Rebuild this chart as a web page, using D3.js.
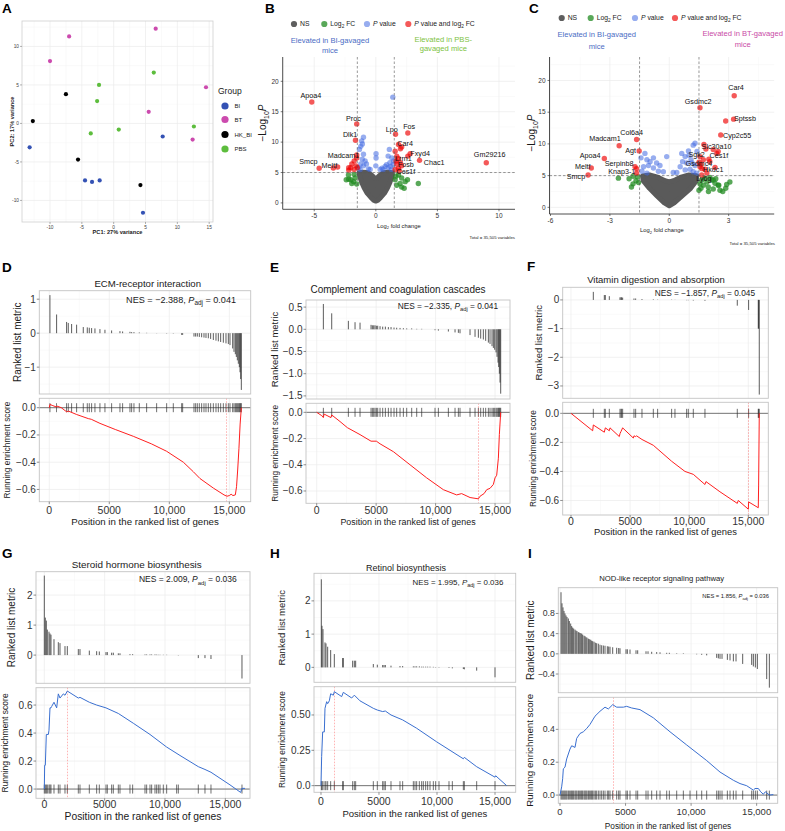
<!DOCTYPE html>
<html><head><meta charset="utf-8">
<script src="https://cdn.jsdelivr.net/npm/d3@7"></script>
<style>body{margin:0;background:#fff}svg{display:block;font-family:"Liberation Sans",Arial,Helvetica,sans-serif}</style>
</head><body><svg id="c" width="785" height="831"></svg>
<script>
// ---------------- DATA ----------------
// Panel A (PCA)
const pcaGroups = ["BI","BT","HK_BI","PBS"];
const pcaGroupColors = ["#3452b4","#cc4aae","#000000","#5dbd3d"];
const pcaSampleGroup = ["BI","BI","BI","BI","BI","BI","BT","BT","BT","BT","BT","BT","HK_BI","HK_BI","HK_BI","HK_BI","PBS","PBS","PBS","PBS","PBS","PBS"];
const pcaPC1 = [-13.2,-4.5,-3.4,-2.2,7.7,4.6,-7.0,-10.0,6.6,14.5,5.5,12.4,-7.5,-12.7,-5.6,4.2,6.3,-2.3,-2.6,-3.6,0.8,12.6];
const pcaPC2 = [-3.1,-7.4,-7.6,-7.4,-1.7,-11.6,11.3,8.1,12.3,4.7,1.5,-2.1,3.8,0.3,-4.7,-8.0,6.6,5.0,2.9,-1.3,-0.8,-0.4];
const pcaTicksX = [-10,-5,0,5,10,15];
const pcaTicksY = [-10,-5,0,5,10];

// Volcano common
const volcColors = ["#4d4d4d","#228b22","#4169e1","#ee0000"];

// Panel B
const bNsX = [-1.35,-1.3,-1.15,-0.95,-0.7,-0.4,-0.15,0,0.15,0.4,0.7,0.95,1.15,1.3,1.35,1.0,0.6,0.3,0.1,0,-0.1,-0.3,-0.6,-1.0];
const bNsY = [4.95,4.3,3.4,2.5,1.6,0.9,0.4,0.3,0.4,0.9,1.6,2.5,3.4,4.3,4.95,5.05,4.95,4.5,4.1,4.0,4.1,4.5,4.95,5.05];
const bGreenX = [-2.22,-2.03,-1.8,-1.68,-1.95,-1.55,-2.4,-1.76,-2.2,1.84,2.1,1.97,2.38,2.57,1.7,2.1,3.45,1.57,2.3,1.62];
const bGreenY = [4.6,3.8,3.5,4.1,3.2,3.1,3.8,4.7,3.9,4.6,4.1,3.2,3.5,3.8,2.9,2.6,3.2,3.8,2.4,4.4];
const bBlueX = [1.38,-1.09,-1.22,-1.33,-1.0,-1.1,-0.87,-1.22,-1.0,-0.76,0.02,0.02,0.0,0.76,1.1,1.0,1.3,1.14,0.87,1.41,0.6,1.0,-1.27,-0.46,0.35,1.27,-1.4,-0.6,0.5,1.2,-1.0,-1.15,1.45];
const bBlueY = [17.4,9.7,9.3,8.8,8.0,7.2,6.9,6.4,6.1,6.4,8.1,7.4,6.1,6.0,8.8,7.7,7.4,6.6,6.3,6.3,5.5,5.8,5.5,5.5,5.5,5.5,5.8,5.6,5.7,6.0,10.8,10.2,6.9];
const bRedX = [-1.55,-1.76,-1.95,-1.6,-1.5,-2.03,-1.76,-2.2,-3.1,-2.2,2.1,2.0,2.6,1.84,1.7,2.1,1.57,1.57,1.65,1.9];
const bRedY = [7.4,6.9,6.4,6.1,5.8,5.8,5.5,5.8,5.9,5.4,9.2,8.9,7.7,7.3,6.4,6.1,8.5,5.5,6.9,5.3];
const bGenes = ["Apoa4","Proc","Dlk1","Madcam1","Smcp","Meltf","Lpo","Fos","Car4","Fxyd4","Chac1","Gm29216","Lrrn1","Fosb","Ces1f"];
const bGeneX = [-5.2,-1.55,-1.65,-1.55,-4.6,-3.45,1.6,2.6,1.84,2.79,3.55,8.97,1.7,2.0,1.84];
const bGeneY = [16.6,13.0,10.3,7.9,5.7,5.75,11.3,11.5,9.6,8.1,7.0,6.6,7.7,6.6,5.7];
const bLabelX = [-5.28,-1.82,-2.09,-2.63,-5.48,-3.77,1.3,2.71,2.38,3.6,4.74,9.24,2.24,2.44,2.44];
const bLabelY = [17.6,13.9,11.3,7.8,6.75,6.2,12.0,12.55,9.73,8.08,6.68,7.96,7.35,6.35,5.2];

// Panel C
const cNsX = [-1.35,-1.32,-1.0,-0.62,-0.25,0,0.25,0.65,1.08,1.37,1.38,1.0,0.55,0.22,0,-0.22,-0.55,-1.0];
const cNsY = [4.95,4.2,3.0,1.8,0.7,0.25,0.7,1.8,3.0,4.2,5.0,5.1,4.7,4.2,4.0,4.2,4.7,5.1];
const cGreenX = [-2.57,-1.83,-1.68,-1.83,-1.55,-1.91,-2.03,-1.6,1.64,1.9,2.14,2.31,1.72,1.97,2.22,2.47,1.5,2.56,1.55,2.22,3.06,2.7,1.98,2.5,1.8,2.05,2.35,2.85,1.6,2.9];
const cGreenY = [4.6,4.9,4.2,3.7,3.9,3.2,4.5,4.8,4.3,4.0,4.3,3.8,3.5,3.2,2.9,3.5,2.7,2.7,3.7,4.3,4.0,2.5,2.5,3.5,4.6,4.7,4.5,3.0,3.0,3.6];
const cBlueX = [-1.43,-1.23,-1.13,-0.97,-0.8,-1.05,-1.3,-0.64,-0.47,-0.8,-1.38,-0.55,-1.13,-0.13,0.63,0.8,0.97,1.21,1.3,1.0,0.67,0.88,1.1,1.3,0.55,0.8,1.05,1.21,1.38,0.38,-0.3,0.2,1.4,1.15];
const cBlueY = [7.8,8.5,7.5,7.2,7.8,6.6,6.4,7.0,6.6,6.2,5.7,5.7,5.4,8.0,8.5,8.0,8.9,9.8,10.1,8.2,7.2,7.0,7.5,6.6,6.4,5.9,6.0,5.6,5.4,5.5,5.6,5.5,8.8,7.0];
const cRedX = [2.85,1.75,1.85,2.22,1.72,1.5,1.6,1.9,1.65,2.0,2.4,1.8,-1.65];
const cRedY = [13.6,9.9,9.2,9.1,7.5,7.1,6.8,5.4,6.1,7.6,8.5,6.0,6.1];
const cGenes = ["Car4","Gsdmc2","Sptssb","Cyp2c55","Col6a4","Madcam1","Agt","Apoa4","Meltf","Smcp","Serpinb8","Knap3-1","Slc30a10","Sgk2","Ces1f","Gsdmc4","Hkdc1","Ly6g"];
const cGeneX = [3.28,1.55,3.25,2.6,-1.65,-2.53,-1.52,-3.28,-3.94,-4.1,-1.73,-1.65,2.47,1.55,2.05,1.55,2.31,1.64];
const cGeneY = [17.6,15.7,13.9,11.4,10.7,9.7,8.9,7.7,6.2,5.1,6.4,5.4,8.8,8.0,7.2,6.4,6.3,5.1];
const cLabelX = [3.37,1.46,3.82,3.43,-1.9,-3.25,-1.95,-4.0,-4.37,-4.71,-2.53,-2.4,2.39,1.38,2.51,1.5,2.22,1.75];
const cLabelY = [18.96,16.68,14.06,11.31,11.85,10.79,8.94,8.15,6.52,4.94,6.95,5.62,9.57,8.37,8.1,6.95,5.89,4.58];

// GSEA panels
const gseaXTicks = [0,5000,10000,15000];
const D_hitPos = [56,611,1444,1583,1861,2278,2833,3167,3333,3528,3806,4222,4639,5194,5889,6111,6722,6861,7056,7500,8111,8944,9778,10333,11028,11111,12056,12194,12333,12500,12694,12889,13056,13250,13444,13667,13889,14083,14278,14500,14722,14917,15056,15278,15389,15500,15583,15667,15750,15833,15889,15944,16000];
const D_metric = [1.12,0.55,0.33,0.30,0.27,0.25,0.18,0.17,0.16,0.15,0.14,0.12,0.10,0.08,0.06,0.05,0.04,0.03,0.03,0.02,0.01,0.005,-0.01,-0.01,-0.05,-0.05,-0.10,-0.10,-0.10,-0.11,-0.12,-0.13,-0.14,-0.15,-0.17,-0.20,-0.22,-0.24,-0.26,-0.28,-0.30,-0.32,-0.35,-0.45,-0.55,-0.62,-0.70,-0.80,-0.90,-1.00,-1.15,-1.35,-1.67];
const D_esPos = [0,56,300,611,650,1000,1444,1600,2278,3250,3500,4222,5500,7000,8500,9778,11167,12000,12556,13667,14556,14800,15000,15150,15300,15500,15600,15700,15800,15900,16000];
const D_esVal = [0,0.024,0.015,0.005,0.012,0.0,-0.03,-0.025,-0.05,-0.08,-0.085,-0.115,-0.16,-0.21,-0.265,-0.32,-0.40,-0.47,-0.52,-0.59,-0.64,-0.65,-0.645,-0.635,-0.645,-0.64,-0.58,-0.45,-0.30,-0.12,0];

const E_hitPos = [561,1262,2663,3224,3645,4570,4682,4794,4906,5018,5130,5327,5551,5775,6028,6252,6504,6728,7009,7289,7570,7990,8411,8831,9952,10233,11074,11635,11915,12055,12896,13317,13597,13793,14017,14213,14438,14578,14746,14858,14970,15083,15167,15251,15307,15363,15419,15475];
const E_metric = [0.57,0.36,0.19,0.16,0.15,0.10,0.09,0.09,0.09,0.08,0.08,0.07,0.06,0.06,0.05,0.05,0.04,0.035,0.03,0.025,0.02,0.02,0.01,0.01,-0.02,-0.03,-0.05,-0.07,-0.08,-0.09,-0.13,-0.17,-0.19,-0.21,-0.23,-0.26,-0.30,-0.33,-0.38,-0.42,-0.46,-0.52,-0.62,-0.75,-0.85,-1.0,-1.2,-1.45];
const E_esPos = [0,420,561,620,1200,1262,1960,2580,3645,4570,5018,5327,6448,7850,9250,10650,11770,12190,12900,13600,13740,14077,14300,14578,14858,14998,15139,15279,15363,15475];
const E_esVal = [0,-0.025,-0.04,-0.013,-0.04,-0.02,-0.07,-0.117,-0.17,-0.22,-0.22,-0.24,-0.30,-0.40,-0.50,-0.59,-0.63,-0.62,-0.65,-0.66,-0.64,-0.62,-0.59,-0.58,-0.55,-0.50,-0.48,-0.35,-0.17,0];

const F_hitPos = [1889,2819,2904,3242,4144,4229,4285,4370,5328,5469,6005,6964,7330,8514,8796,9783,9924,10347,11333,14068,15027,15844,15873,15929];
const F_metric = [0.28,0.17,0.17,0.13,0.09,0.09,0.09,0.08,0.05,0.05,0.03,0.02,0.01,0.01,0.005,-0.01,-0.01,-0.02,-0.03,-0.20,-0.35,-1.0,-1.0,-3.3];
const F_esPos = [0,1833,1889,2819,2904,3242,3300,4088,4144,4229,4370,5272,5328,5469,5550,6005,6964,8514,9640,10347,11333,11420,12600,14068,14150,15000,15030,15844,15873,15929];
const F_esVal = [0,-0.12,-0.08,-0.13,-0.10,-0.12,-0.10,-0.16,-0.14,-0.125,-0.10,-0.17,-0.155,-0.16,-0.155,-0.18,-0.22,-0.33,-0.40,-0.42,-0.49,-0.47,-0.54,-0.62,-0.60,-0.66,-0.61,-0.65,-0.50,0];

const G_hitPos = [0,83,166,249,387,470,552,801,1160,1298,1713,1906,2818,2956,3729,4337,4558,5110,5221,5580,5718,6133,6271,7099,7320,8343,8481,8757,8895,9171,9309,9448,9586,9862,10138,10967,11105,12762,13315,13812,16381];
const G_metric = [2.65,1.25,1.15,0.85,0.78,0.72,0.68,0.53,0.43,0.40,0.30,0.30,0.20,0.20,0.15,0.13,0.12,0.10,0.10,0.08,0.08,0.06,0.06,0.03,0.03,0.02,0.02,0.02,0.02,0.02,0.015,0.01,0.01,0.01,0.01,0.0,-0.01,-0.10,-0.10,-0.13,-0.78];
const G_esPos = [0,28,83,166,332,387,470,552,608,801,1022,1160,1298,1574,1713,1906,2818,2956,3729,4337,5110,6133,7376,8757,10138,11243,12762,13315,13812,15387,16270,16381,16630];
const G_esVal = [0,0.17,0.17,0.39,0.39,0.42,0.58,0.58,0.59,0.62,0.58,0.68,0.65,0.68,0.67,0.70,0.65,0.655,0.62,0.60,0.58,0.54,0.47,0.39,0.30,0.24,0.16,0.14,0.12,0.03,-0.024,0.005,0.005];

const H_hitPos = [29,86,172,345,431,575,833,1149,1868,1925,2730,2874,2989,4511,4856,5316,5431,5546,6034,6810,7040,7960,8103,8247,8477,8678,8822,9023,9195,9397,9684,9885,10172,11034,11322,12270,12356,13420,15000];
const H_metric = [2.65,1.25,1.15,0.75,0.72,0.62,0.52,0.40,0.28,0.28,0.20,0.20,0.20,0.10,0.08,0.07,0.07,0.07,0.05,0.04,0.04,0.03,0.03,0.03,0.03,0.02,0.02,0.02,0.02,0.02,0.015,0.01,0.01,-0.02,-0.03,-0.05,-0.06,-0.10,-0.30];
const H_esPos = [0,57,144,287,345,489,575,718,833,1063,1149,1782,1925,2644,2874,3362,4511,4856,5316,5546,6034,7040,8247,9971,12270,12356,13420,15000,15057,16006];
const H_esVal = [0,0.205,0.38,0.38,0.547,0.594,0.58,0.60,0.65,0.64,0.665,0.63,0.66,0.62,0.64,0.60,0.547,0.535,0.524,0.528,0.50,0.465,0.406,0.31,0.19,0.20,0.134,0.06,0.07,0];

const I_hitPos = [76,153,229,305,381,458,534,636,712,814,890,966,1043,1144,1221,1297,1399,1475,1577,1653,1729,1831,1907,1984,2060,2162,2238,2340,2416,2492,2594,2696,2797,2924,3052,3179,3306,3433,3611,3713,3815,4018,4323,4476,4577,5035,5137,5340,5798,5925,6561,6714,6993,7375,7629,8138,8341,8901,9409,9918,10426,10808,11189,11952,12079,12206,12359,12766,12969,13224,13427,13935,14622,14749,14901,15054,15766,15969];
const I_metric = [1.22,1.0,0.92,0.85,0.80,0.76,0.73,0.70,0.65,0.60,0.55,0.52,0.50,0.48,0.46,0.45,0.43,0.42,0.41,0.40,0.38,0.36,0.35,0.33,0.32,0.30,0.29,0.28,0.26,0.25,0.24,0.22,0.21,0.20,0.18,0.17,0.165,0.16,0.15,0.145,0.14,0.13,0.12,0.115,0.11,0.09,0.09,0.085,0.07,0.07,0.05,0.05,0.04,0.035,0.03,0.02,0.02,0.01,0.01,0.0,-0.01,-0.02,-0.03,-0.08,-0.09,-0.10,-0.10,-0.12,-0.13,-0.15,-0.15,-0.20,-0.22,-0.25,-0.27,-0.30,-0.50,-0.67];
const I_esPos = [0,127,203,254,381,509,636,763,890,1144,1271,1526,1780,2035,2289,2670,3052,3433,3687,4018,4323,4832,5086,5467,6103,7120,8392,9664,11189,12206,13224,13731,14240,14749,14876,15130,15308,15511,15664,15969,16274];
const I_esVal = [0,0.05,0.10,0.16,0.17,0.22,0.25,0.28,0.30,0.29,0.345,0.375,0.385,0.405,0.43,0.48,0.51,0.535,0.524,0.55,0.535,0.535,0.54,0.53,0.52,0.47,0.385,0.305,0.21,0.14,0.09,0.07,0.057,0.03,0.04,0.04,0.02,0.005,0.02,0.0,0.003];

// ---------------- DRAWING ----------------
const svg = d3.select("#c");
const GRID = "#ebebeb", GRIDMINOR = "#f5f5f5", TXT = "#1a1a1a", TICKTXT = "#333";

function minors(ticks, dom) {
  const step = ticks[1] - ticks[0], out = [];
  for (let v = ticks[0] - step / 2; v >= dom[0]; v -= step) out.push(v);
  for (let v = ticks[0] + step / 2; v <= dom[1]; v += step) out.push(v);
  return out;
}
function rich(t, parts, fs) {
  let shifted = false;
  parts.forEach(p => {
    const ts = t.append("tspan").text(p.t);
    if (p.sub) { ts.attr("dy", fs * 0.3).attr("font-size", fs * 0.7); shifted = true; }
    else if (shifted) { ts.attr("dy", -fs * 0.3); shifted = false; }
    if (p.it) ts.attr("font-style", "italic");
  });
  return t;
}
function letter(txt, x, y) {
  svg.append("text").attr("x", x).attr("y", y).attr("font-size", 13.5).attr("font-weight", "bold").attr("fill", "#000").text(txt);
}
function grid(g, x, y, xt, yt, x0, x1, y0, y1) {
  const xd = x.domain(), yd = y.domain();
  minors(xt, xd).forEach(v => g.append("line").attr("x1", x(v)).attr("x2", x(v)).attr("y1", y0).attr("y2", y1).attr("stroke", GRIDMINOR).attr("stroke-width", 0.5));
  minors(yt, yd).forEach(v => g.append("line").attr("x1", x0).attr("x2", x1).attr("y1", y(v)).attr("y2", y(v)).attr("stroke", GRIDMINOR).attr("stroke-width", 0.5));
  xt.forEach(v => g.append("line").attr("x1", x(v)).attr("x2", x(v)).attr("y1", y0).attr("y2", y1).attr("stroke", GRID).attr("stroke-width", 0.7));
  yt.forEach(v => g.append("line").attr("x1", x0).attr("x2", x1).attr("y1", y(v)).attr("y2", y(v)).attr("stroke", GRID).attr("stroke-width", 0.7));
}

// ----- Panel A -----
(function () {
  const L = { left: 22, right: 213, top: 21, bottom: 222 };
  const x = d3.scaleLinear().domain([-14.4, 15.6]).range([L.left, L.right]);
  const y = d3.scaleLinear().domain([-12.8, 13.3]).range([L.bottom, L.top]);
  const g = svg.append("g");
  grid(g, x, y, pcaTicksX, pcaTicksY, L.left, L.right, L.top, L.bottom);
  g.append("rect").attr("x", L.left).attr("y", L.top).attr("width", L.right - L.left).attr("height", L.bottom - L.top).attr("fill", "none").attr("stroke", "#cfcfcf").attr("stroke-width", 0.8);
  const col = d3.scaleOrdinal().domain(pcaGroups).range(pcaGroupColors);
  g.selectAll("circle.p").data(pcaPC1.map((v, i) => [v, pcaPC2[i], pcaSampleGroup[i]])).enter().append("circle")
    .attr("cx", d => x(d[0])).attr("cy", d => y(d[1])).attr("r", 2.1).attr("fill", d => col(d[2]));
  pcaTicksX.forEach(v => {
    g.append("line").attr("x1", x(v)).attr("x2", x(v)).attr("y1", L.bottom).attr("y2", L.bottom + 2).attr("stroke", "#666").attr("stroke-width", 0.5);
    g.append("text").attr("x", x(v)).attr("y", L.bottom + 7).attr("text-anchor", "middle").attr("font-size", 4.8).attr("fill", "#444").text(v);
  });
  pcaTicksY.forEach(v => {
    g.append("line").attr("x1", L.left - 2).attr("x2", L.left).attr("y1", y(v)).attr("y2", y(v)).attr("stroke", "#666").attr("stroke-width", 0.5);
    g.append("text").attr("x", L.left - 3).attr("y", y(v) + 1.7).attr("text-anchor", "end").attr("font-size", 4.8).attr("fill", "#444").text(v);
  });
  g.append("text").attr("x", (L.left + L.right) / 2).attr("y", 234).attr("text-anchor", "middle").attr("font-size", 5.6).attr("font-weight", "bold").attr("fill", TXT).text("PC1: 27% variance");
  g.append("text").attr("transform", `translate(13.5,${(L.top + L.bottom) / 2}) rotate(-90)`).attr("text-anchor", "middle").attr("font-size", 5.6).attr("font-weight", "bold").attr("fill", TXT).text("PC2: 17% variance");
  g.append("text").attr("x", 218).attr("y", 94).attr("font-size", 8.5).attr("fill", TXT).text("Group");
  pcaGroups.forEach((k, i) => {
    const yy = [106, 119.5, 134.5, 149][i];
    g.append("circle").attr("cx", 225).attr("cy", yy).attr("r", 3.6).attr("fill", pcaGroupColors[i]);
    g.append("text").attr("x", 234.5).attr("y", yy + 2.1).attr("font-size", 6).attr("fill", TXT).text(k);
  });
  letter("A", 2, 13);
})();

// ----- Volcano -----
function volcano(L, D) {
  const x = d3.scaleLinear().domain(L.xDom).range([L.left, L.right]);
  const y = d3.scaleLinear().domain(L.yDom).range([L.bottom, L.top]);
  const g = svg.append("g");
  grid(g, x, y, L.xTicks, L.yTicks, L.left, L.right, L.top, L.bottom);
  const line = d3.line().x(d => x(d[0])).y(d => y(d[1]));
  g.append("path").attr("d", line(D.nsX.map((v, i) => [v, D.nsY[i]])) + "Z")
    .attr("fill", volcColors[0]).attr("stroke", volcColors[0]).attr("stroke-width", 5).attr("stroke-linejoin", "round").attr("opacity", 0.92);
  const pts = (xs, ys, c, op) => g.append("g").selectAll("circle").data(xs.map((v, i) => [v, ys[i]])).enter().append("circle")
    .attr("cx", d => x(d[0])).attr("cy", d => y(d[1])).attr("r", 2.7).attr("fill", c).attr("opacity", op);
  pts(D.greenX, D.greenY, volcColors[1], 0.75);
  pts(D.blueX, D.blueY, volcColors[2], 0.55);
  pts(D.redX, D.redY, volcColors[3], 0.65);
  pts(D.geneX, D.geneY, volcColors[3], 0.65);
  const dash = { stroke: "#555", "stroke-width": 0.6, "stroke-dasharray": "2.5,2" };
  [-1.5, 1.5].forEach(v => { const l = g.append("line").attr("x1", x(v)).attr("x2", x(v)).attr("y1", L.top).attr("y2", L.bottom); Object.entries(dash).forEach(([k, val]) => l.attr(k, val)); });
  { const l = g.append("line").attr("x1", L.left).attr("x2", L.right).attr("y1", y(5)).attr("y2", y(5)); Object.entries(dash).forEach(([k, val]) => l.attr(k, val)); }
  D.genes.forEach((s, i) => g.append("text").attr("x", x(D.labelX[i])).attr("y", y(D.labelY[i])).attr("dy", "0.35em").attr("text-anchor", "middle").attr("font-size", 7.2).attr("fill", "#111").text(s));
  // axes
  g.append("line").attr("x1", L.left).attr("x2", L.left).attr("y1", L.top).attr("y2", L.bottom).attr("stroke", "#222").attr("stroke-width", 0.8);
  g.append("line").attr("x1", L.left).attr("x2", L.right).attr("y1", L.bottom).attr("y2", L.bottom).attr("stroke", "#222").attr("stroke-width", 0.8);
  L.xTicks.forEach(v => {
    g.append("line").attr("x1", x(v)).attr("x2", x(v)).attr("y1", L.bottom).attr("y2", L.bottom + 2).attr("stroke", "#222").attr("stroke-width", 0.6);
    g.append("text").attr("x", x(v)).attr("y", L.bottom + 9).attr("text-anchor", "middle").attr("font-size", 6.5).attr("fill", TICKTXT).text(v);
  });
  L.yTicks.forEach(v => {
    g.append("line").attr("x1", L.left - 2).attr("x2", L.left).attr("y1", y(v)).attr("y2", y(v)).attr("stroke", "#222").attr("stroke-width", 0.6);
    g.append("text").attr("x", L.left - 4).attr("y", y(v) + 2.3).attr("text-anchor", "end").attr("font-size", 6.5).attr("fill", TICKTXT).text(v);
  });
  rich(g.append("text").attr("x", (L.left + L.right) / 2).attr("y", L.xTitleY).attr("text-anchor", "middle").attr("font-size", 5.8).attr("fill", TXT),
    [{ t: "Log" }, { t: "2", sub: true }, { t: " fold change" }], 5.8);
  rich(g.append("text").attr("transform", `translate(${L.yTitleX},${L.yTitleY}) rotate(-90)`).attr("text-anchor", "middle").attr("font-size", 10).attr("fill", TXT),
    [{ t: "\u2212Log" }, { t: "10", sub: true }, { t: "P", it: true }], 10);
  g.append("text").attr("x", L.totalX).attr("y", L.totalY).attr("text-anchor", "end").attr("font-size", 4.3).attr("fill", TXT).text("Total = 35,505 variables");
  // legend
  const leg = [[{ t: "NS" }], [{ t: "Log" }, { t: "2", sub: true }, { t: " FC" }], [{ t: "P", it: true }, { t: " value" }], [{ t: "P", it: true }, { t: " value and log" }, { t: "2", sub: true }, { t: " FC" }]];
  leg.forEach((parts, i) => {
    g.append("circle").attr("cx", L.legX[i]).attr("cy", L.legY).attr("r", 3.1).attr("fill", volcColors[i]).attr("opacity", [0.9, 0.75, 0.55, 0.65][i]);
    rich(g.append("text").attr("x", L.legX[i] + 6).attr("y", L.legY + 2.4).attr("font-size", 6.8).attr("fill", TXT), parts, 6.8);
  });
  L.notes.forEach(n => n.lines.forEach((s, j) => g.append("text").attr("x", n.x).attr("y", n.y + j * n.dy).attr("text-anchor", "middle").attr("font-size", 7.6).attr("fill", n.color).text(s)));
}

volcano({ left: 282.7, right: 515, top: 57, bottom: 209.3, xDom: [-7.56, 11.3], yDom: [-1.05, 24], xTicks: [-5, 0, 5, 10], yTicks: [0, 5, 10, 15, 20],
  xTitleY: 227.5, yTitleX: 266, yTitleY: 123, totalX: 515, totalY: 239, legY: 24, legX: [294, 324.3, 367, 408.3],
  notes: [{ x: 330, y: 43, dy: 9.5, color: "#4a6cc4", lines: ["Elevated in BI-gavaged", "mice"] }, { x: 443.3, y: 42, dy: 9.2, color: "#7dc242", lines: ["Elevated in PBS-", "gavaged mice"] }] },
  { nsX: bNsX, nsY: bNsY, greenX: bGreenX, greenY: bGreenY, blueX: bBlueX, blueY: bBlueY, redX: bRedX, redY: bRedY, genes: bGenes, geneX: bGeneX, geneY: bGeneY, labelX: bLabelX, labelY: bLabelY });
letter("B", 265, 13);

volcano({ left: 549.5, right: 774.2, top: 57, bottom: 214, xDom: [-6.05, 5.3], yDom: [-1.05, 23.7], xTicks: [-6, -3, 0, 3], yTicks: [0, 5, 10, 15, 20],
  xTitleY: 232, yTitleX: 535, yTitleY: 133, totalX: 775, totalY: 245, legY: 18, legX: [561.7, 590.7, 635, 675],
  notes: [{ x: 596.7, y: 37, dy: 11.5, color: "#4a6cc4", lines: ["Elevated in BI-gavaged", "mice"] }, { x: 742.7, y: 36, dy: 11, color: "#c94aa6", lines: ["Elevated in BT-gavaged", "mice"] }] },
  { nsX: cNsX, nsY: cNsY, greenX: cGreenX, greenY: cGreenY, blueX: cBlueX, blueY: cBlueY, redX: cRedX, redY: cRedY, genes: cGenes, geneX: cGeneX, geneY: cGeneY, labelX: cLabelX, labelY: cLabelY });
letter("C", 529, 13);

// ----- GSEA -----
function gsea(L, D) {
  const x = d3.scaleLinear().domain(L.xDom).range([L.left, L.right]);
  const y1 = d3.scaleLinear().domain(L.y1Dom).range([L.b1, L.t1]);
  const y2 = d3.scaleLinear().domain(L.y2Dom).range([L.b2, L.t2]);
  const g = svg.append("g");
  grid(g, x, y1, gseaXTicks, L.y1Ticks, L.left, L.right, L.t1, L.b1);
  grid(g, x, y2, gseaXTicks, L.y2Ticks, L.left, L.right, L.t2, L.b2);
  g.append("g").selectAll("line").data(D.hit.map((p, i) => [p, D.metric[i]])).enter().append("line")
    .attr("x1", d => x(d[0])).attr("x2", d => x(d[0])).attr("y1", y1(0)).attr("y2", d => y1(d[1]))
    .attr("stroke", "#2b2b2b").attr("stroke-width", 0.9).attr("opacity", 0.85);
  g.append("line").attr("x1", L.left).attr("x2", L.right).attr("y1", y2(0)).attr("y2", y2(0)).attr("stroke", "#555").attr("stroke-width", 0.8);
  g.append("g").selectAll("line").data(D.hit).enter().append("line")
    .attr("x1", d => x(d)).attr("x2", d => x(d)).attr("y1", y2(0) - 4.5).attr("y2", y2(0) + 4.5)
    .attr("stroke", "#2b2b2b").attr("stroke-width", 0.8).attr("opacity", 0.85);
  g.append("line").attr("x1", x(L.peak)).attr("x2", x(L.peak)).attr("y1", L.t2).attr("y2", L.b2)
    .attr("stroke", "#ff4040").attr("stroke-width", 0.6).attr("stroke-dasharray", "1.5,1.5").attr("opacity", 0.8);
  g.append("path").attr("d", d3.line().x(d => x(d[0])).y(d => y2(d[1]))(D.esPos.map((p, i) => [p, D.esVal[i]])))
    .attr("fill", "none").attr("stroke", L.color).attr("stroke-width", 1);
  [[L.t1, L.b1], [L.t2, L.b2]].forEach(([t, b]) => g.append("rect").attr("x", L.left).attr("y", t).attr("width", L.right - L.left).attr("height", b - t)
    .attr("fill", "none").attr("stroke", "#c4c4c4").attr("stroke-width", 0.9));
  const fs = L.fs;
  gseaXTicks.forEach(v => {
    g.append("line").attr("x1", x(v)).attr("x2", x(v)).attr("y1", L.b2).attr("y2", L.b2 + 2.5).attr("stroke", "#444").attr("stroke-width", 0.6);
    g.append("text").attr("x", x(v)).attr("y", L.xTickY).attr("text-anchor", "middle").attr("font-size", fs.xt).attr("fill", TICKTXT)
      .text(v < 10000 ? String(v) : d3.format(",")(v));
  });
  const yt = (ys, ticks, fmt) => ticks.forEach((v, i) => {
    g.append("line").attr("x1", L.left - 2.5).attr("x2", L.left).attr("y1", ys(v)).attr("y2", ys(v)).attr("stroke", "#444").attr("stroke-width", 0.6);
    g.append("text").attr("x", L.left - 3.5).attr("y", ys(v)).attr("dy", "0.35em").attr("text-anchor", "end").attr("font-size", fs.yt).attr("fill", TICKTXT).text(fmt(v, i));
  });
  yt(y1, L.y1Ticks, L.y1Fmt);
  yt(y2, L.y2Ticks, L.y2Fmt);
  g.append("text").attr("transform", `translate(${L.rankX},${(L.t1 + L.b1) / 2}) rotate(-90)`).attr("dy", "0.35em").attr("text-anchor", "middle").attr("font-size", fs.yl1).attr("fill", TXT).text("Ranked list metric");
  g.append("text").attr("transform", `translate(${L.runX},${(L.t2 + L.b2) / 2}) rotate(-90)`).attr("dy", "0.35em").attr("text-anchor", "middle").attr("font-size", fs.yl2).attr("fill", TXT).text("Running enrichment score");
  g.append("text").attr("x", (L.left + L.right) / 2).attr("y", L.xTitleY).attr("text-anchor", "middle").attr("font-size", fs.xl).attr("fill", TXT).text("Position in the ranked list of genes");
  g.append("text").attr("x", L.titleX).attr("y", L.titleY).attr("text-anchor", "middle").attr("font-size", fs.title).attr("fill", TXT).text(L.title);
  rich(g.append("text").attr("x", L.nesX).attr("y", L.nesY).attr("text-anchor", "end").attr("font-size", fs.nes).attr("fill", TXT),
    [{ t: "NES = " + L.nes + ", " }, { t: "P", it: true }, { t: "adj", sub: true }, { t: " = " + L.padj }], fs.nes);
  letter(L.letter, L.letterX, L.letterY);
}
const f1 = d3.format(".1f"), fd = d3.format("d");
const fmt1 = v => f1(v), fmtd = v => fd(v);

gsea({ left: 39.3, right: 250.7, t1: 290.7, b1: 394, t2: 398.3, b2: 501.7, xDom: [-830, 16780], y1Dom: [-1.79, 1.25], y2Dom: [-0.69, 0.069],
  y1Ticks: [-1, 0, 1], y1Fmt: fmtd, y2Ticks: [-0.6, -0.4, -0.2, 0], y2Fmt: fmt1, peak: 14750, color: "#ff1f1f",
  title: "ECM-receptor interaction", titleX: 147.7, titleY: 286.5, nes: "\u22122.388", padj: "0.041", nesX: 236, nesY: 302.5,
  xTickY: 514, xTitleY: 525, rankX: 17.3, runX: 7.5, letter: "D", letterX: 2, letterY: 272,
  fs: { xt: 10.5, yt: 10, yl1: 10, yl2: 8.3, xl: 9.7, title: 9.6, nes: 9.1 } },
  { hit: D_hitPos, metric: D_metric, esPos: D_esPos, esVal: D_esVal });

gsea({ left: 306, right: 510, t1: 300, b1: 399, t2: 403.3, b2: 503.3, xDom: [-900, 16258], y1Dom: [-1.57, 0.66], y2Dom: [-0.694, 0.069],
  y1Ticks: [-1.5, -1.0, -0.5, 0, 0.5], y1Fmt: fmt1, y2Ticks: [-0.6, -0.4, -0.2, 0], y2Fmt: fmt1, peak: 13600, color: "#ff1f1f",
  title: "Complement and coagulation cascades", titleX: 398, titleY: 292.5, nes: "\u22122.335", padj: "0.041", nesX: 498, nesY: 309,
  xTickY: 514, xTitleY: 525, rankX: 275, runX: 275, letter: "E", letterX: 270, letterY: 272,
  fs: { xt: 10.5, yt: 10, yl1: 9.5, yl2: 8.3, xl: 8.9, title: 10, nes: 8.3 } },
  { hit: E_hitPos, metric: E_metric, esPos: E_esPos, esVal: E_esVal });

gsea({ left: 562.7, right: 768.3, t1: 287.3, b1: 398.3, t2: 402.3, b2: 515, xDom: [-702, 16692], y1Dom: [-3.43, 0.44], y2Dom: [-0.70, 0.076],
  y1Ticks: [-3, -2, -1, 0], y1Fmt: fmtd, y2Ticks: [-0.6, -0.4, -0.2, 0], y2Fmt: fmt1, peak: 15027, color: "#ff1f1f",
  title: "Vitamin digestion and absorption", titleX: 656, titleY: 282.5, nes: "\u22121.857", padj: "0.045", nesX: 755, nesY: 295.7,
  xTickY: 525, xTitleY: 534.5, rankX: 538.3, runX: 533.3, letter: "F", letterX: 527, letterY: 271,
  fs: { xt: 10.5, yt: 10, yl1: 9.5, yl2: 8.3, xl: 9.4, title: 9.5, nes: 8.3 } },
  { hit: F_hitPos, metric: F_metric, esPos: F_esPos, esVal: F_esVal });

gsea({ left: 36, right: 250, t1: 571.7, b1: 683.3, t2: 687.7, b2: 798.3, xDom: [-690, 17046], y1Dom: [-0.94, 2.78], y2Dom: [-0.066, 0.724],
  y1Ticks: [0, 1, 2], y1Fmt: fmtd, y2Ticks: [0, 0.2, 0.4, 0.6], y2Fmt: fmt1, peak: 1906, color: "#3a6fd0",
  title: "Steroid hormone biosynthesis", titleX: 136.7, titleY: 567.5, nes: "2.009", padj: "0.036", nesX: 236.7, nesY: 582,
  xTickY: 808, xTitleY: 820, rankX: 11.7, runX: 5, letter: "G", letterX: 2, letterY: 558,
  fs: { xt: 10.5, yt: 10, yl1: 10, yl2: 8.5, xl: 10.3, title: 9.9, nes: 8.5 } },
  { hit: G_hitPos, metric: G_metric, esPos: G_esPos, esVal: G_esVal });

gsea({ left: 314, right: 515.7, t1: 573.3, b1: 682.3, t2: 686.7, b2: 792.3, xDom: [-603, 16784], y1Dom: [-0.45, 2.83], y2Dom: [-0.047, 0.70],
  y1Ticks: [0, 1, 2], y1Fmt: fmtd, y2Ticks: [0, 0.25, 0.5], y2Fmt: (v, i) => ["0.0", "0.25", "0.50"][i], peak: 1149, color: "#3a6fd0",
  title: "Retinol biosynthesis", titleX: 406, titleY: 570.5, nes: "1.995", padj: "0.036", nesX: 503.3, nesY: 585,
  xTickY: 805, xTitleY: 817, rankX: 281.7, runX: 281.7, letter: "H", letterX: 270, letterY: 558,
  fs: { xt: 10.5, yt: 10, yl1: 9.5, yl2: 8.3, xl: 9.5, title: 9, nes: 7.9 } },
  { hit: H_hitPos, metric: H_metric, esPos: H_esPos, esVal: H_esVal });

gsea({ left: 558.3, right: 777.7, t1: 587.7, b1: 692.7, t2: 697.3, b2: 803.3, xDom: [-130, 16606], y1Dom: [-0.77, 1.31], y2Dom: [-0.05, 0.595],
  y1Ticks: [-0.4, 0, 0.4, 0.8], y1Fmt: fmt1, y2Ticks: [0, 0.2, 0.4], y2Fmt: fmt1, peak: 4069, color: "#3a6fd0",
  title: "NOD-like receptor signaling pathway", titleX: 661.7, titleY: 581.3, nes: "1.856", padj: "0.036", nesX: 769, nesY: 598,
  xTickY: 814.5, xTitleY: 828.5, rankX: 530, runX: 530, letter: "I", letterX: 528, letterY: 558,
  fs: { xt: 9.5, yt: 8.7, yl1: 10, yl2: 9.7, xl: 8.3, title: 7.7, nes: 5.8 } },
  { hit: I_hitPos, metric: I_metric, esPos: I_esPos, esVal: I_esVal });
</script></body></html>
